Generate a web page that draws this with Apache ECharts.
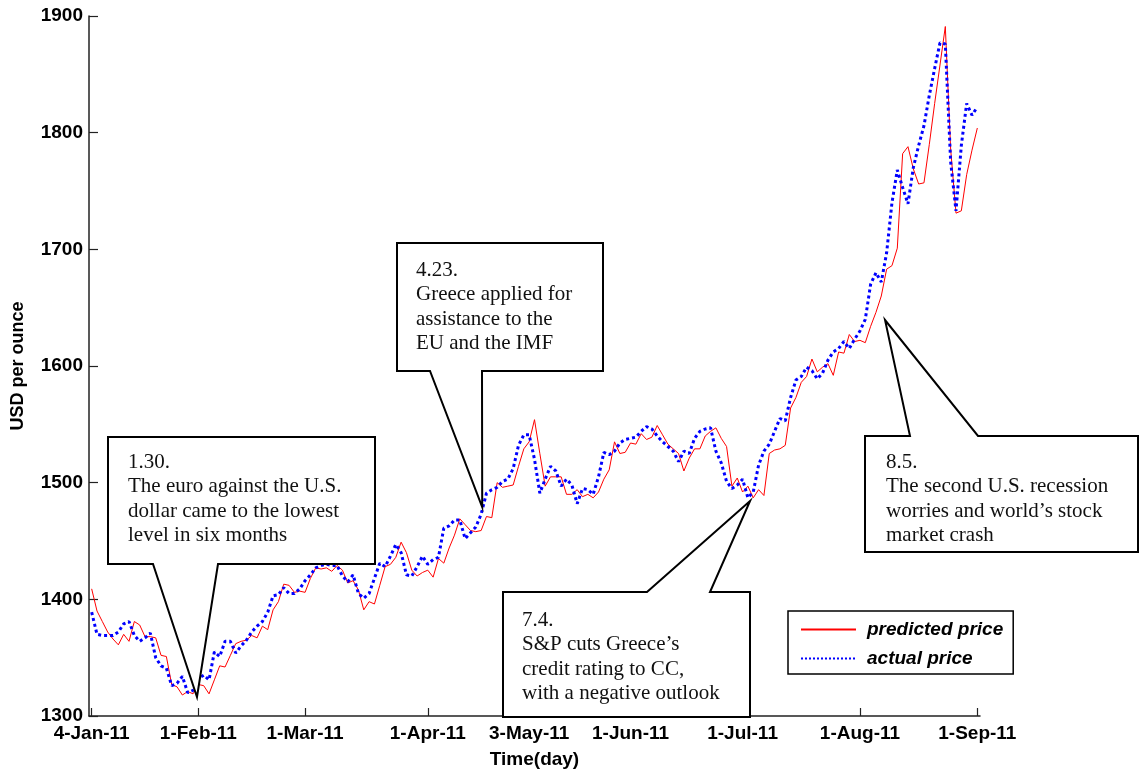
<!DOCTYPE html>
<html>
<head>
<meta charset="utf-8">
<script src="https://cdn.jsdelivr.net/npm/echarts@6/dist/echarts.min.js"></script>
<style>
  html, body { margin: 0; padding: 0; background: #fff; }
  #chart { width: 1141px; height: 774px; }
</style>
</head>
<body>
<div id="chart"></div>
<script>
// Trading-day index of each labelled date and the label shown under it
const tickDays = [1, 21, 41, 64, 83, 102, 123, 145, 167];
const tickLabels = ['4-Jan-11', '1-Feb-11', '1-Mar-11', '1-Apr-11', '3-May-11',
                    '1-Jun-11', '1-Jul-11', '1-Aug-11', '1-Sep-11'];

// Gold price, USD per ounce, one value per trading day from 4 Jan 2011
const predicted = [
  1409, 1390, 1381, 1372, 1366, 1361, 1370, 1364, 1381, 1378,
  1368, 1368, 1367, 1352, 1351, 1327, 1325, 1318, 1321, 1319,
  1327, 1326, 1319, 1331, 1343, 1342, 1352, 1362, 1364, 1365,
  1369, 1367, 1377, 1374, 1391, 1398, 1413, 1412, 1406, 1407,
  1406, 1418, 1427, 1426, 1427, 1424, 1429, 1425, 1414, 1416,
  1408, 1391, 1398, 1396, 1412, 1428, 1430, 1436, 1449, 1440,
  1425, 1420, 1423, 1425, 1419, 1435, 1431, 1444, 1455, 1469,
  1464, 1459, 1458, 1459, 1471, 1470, 1500, 1496, 1497, 1498,
  1514, 1529, 1535, 1554, 1525, 1497, 1505, 1505, 1505, 1490,
  1490, 1494, 1488, 1490, 1487, 1492, 1503, 1511, 1535, 1525,
  1526, 1534, 1533, 1542, 1537, 1539, 1549, 1541, 1533, 1529,
  1525, 1510, 1521, 1529, 1529, 1540, 1544, 1547, 1538, 1531,
  1497, 1504, 1492, 1497, 1487, 1494, 1489, 1525, 1528, 1529,
  1532, 1564, 1573, 1586, 1591, 1606, 1595, 1599, 1602, 1592,
  1612, 1611, 1627, 1621, 1622, 1620, 1634, 1646, 1660, 1683,
  1686, 1701, 1782, 1788, 1769, 1756, 1757, 1790, 1825, 1858,
  1891, 1786, 1731, 1733, 1764, 1785, 1804
];
const actual = [
  1389, 1370, 1369, 1369, 1369, 1372, 1379, 1381, 1369, 1364,
  1367, 1371, 1350, 1343, 1341, 1326, 1328, 1334, 1320, 1322,
  1332, 1335, 1331, 1355, 1351, 1364, 1364, 1354, 1360, 1365,
  1372, 1377, 1381, 1389, 1403, 1404, 1410, 1405, 1405, 1409,
  1416, 1421, 1427, 1429, 1430, 1429, 1429, 1420, 1415, 1421,
  1405, 1401, 1405, 1418, 1431, 1428, 1437, 1447, 1440, 1421,
  1420, 1428, 1437, 1430, 1434, 1436, 1461, 1463, 1468, 1468,
  1452, 1457, 1462, 1473, 1491, 1494, 1496, 1501, 1503, 1512,
  1532, 1541, 1541, 1520, 1491, 1503, 1514, 1510, 1497, 1503,
  1498, 1482, 1495, 1494, 1490, 1505, 1526, 1524, 1527, 1534,
  1537, 1538, 1539, 1544, 1548, 1546, 1540, 1535, 1531, 1527,
  1518, 1527, 1525, 1538, 1544, 1546, 1547, 1527, 1517, 1501,
  1495, 1498, 1503, 1487, 1492, 1515, 1527, 1533, 1544, 1555,
  1553, 1573, 1588, 1591, 1599, 1596, 1589, 1594, 1605, 1612,
  1615, 1621, 1615, 1623, 1630, 1640, 1670, 1680, 1672, 1697,
  1740, 1768, 1753, 1739, 1770, 1789, 1806, 1832, 1855, 1877,
  1876, 1775, 1733, 1789, 1825, 1815, 1822
];

// Event notes: the point each one refers to (day, price) and its text
const noteTips = [[20.74, 1316.3], [74.2, 1479.1], [124.4, 1484.3], [149.7, 1639.4]];
const noteTexts = [
  ['1.30.', 'The euro against the U.S.', 'dollar came to the lowest', 'level in six months'],
  ['4.23.', 'Greece applied for', 'assistance to the', 'EU and the IMF'],
  ['7.4.', 'S&P cuts Greece\u2019s', 'credit rating to CC,', 'with a negative outlook'],
  ['8.5.', 'The second U.S. recession', 'worries and world\u2019s stock', 'market crash']
];

// Callout boxes in screen pixels: [left, top, right, bottom], pointer side,
// the two x positions where the pointer leaves the box, and text origin
const noteLayout = [
  { box: [108, 437, 375, 564], side: 'bottom', base: [153, 218], text: [128, 450] },
  { box: [397, 243, 603, 371], side: 'bottom', base: [430, 482], text: [416, 258] },
  { box: [503, 592, 750, 717], side: 'top',    base: [647, 710], text: [522, 608] },
  { box: [865, 436, 1138, 552], side: 'top',   base: [910, 978], text: [886, 450] }
];

const sans = '"Liberation Sans", Arial, sans-serif';
const serif = '"Liberation Serif", "Times New Roman", serif';

const chart = echarts.init(document.getElementById('chart'), null, { renderer: 'canvas' });

const dayIndex = predicted.map((_, i) => i + 1);

chart.setOption({
  animation: false,
  backgroundColor: '#fff',
  grid: { left: 89, right: 161, top: 16, bottom: 58, containLabel: false, outerBoundsMode: 'none' },
  legend: {
    left: 788, top: 611,
    orient: 'vertical',
    backgroundColor: '#fff',
    borderColor: '#000', borderWidth: 1.5,
    padding: [9, 10, 6, 12],
    itemWidth: 55, itemHeight: 14, itemGap: 10,
    itemStyle: { opacity: 0 },
    textStyle: { fontFamily: sans, fontSize: 19, fontWeight: 'bold', fontStyle: 'italic',
                 color: '#000', padding: [0, 0, 0, 6] },
    data: ['predicted price', 'actual price']
  },
  xAxis: {
    type: 'value', min: 0.5, max: 167.5,
    axisLine: { onZero: false, lineStyle: { color: '#222', width: 1.5 } },
    axisTick: { inside: true, length: 8, customValues: tickDays, lineStyle: { color: '#222', width: 1.2 } },
    axisLabel: {
      customValues: tickDays,
      formatter: v => tickLabels[tickDays.indexOf(v)] || '',
      margin: 8, color: '#000', fontFamily: sans, fontSize: 19, fontWeight: 'bold'
    },
    splitLine: { show: false },
    name: 'Time(day)', nameLocation: 'middle', nameGap: 34,
    nameTextStyle: { color: '#000', fontFamily: sans, fontSize: 19, fontWeight: 'bold' }
  },
  yAxis: {
    type: 'value', min: 1300, max: 1900, interval: 100,
    axisLine: { show: true, lineStyle: { color: '#222', width: 1.5 } },
    axisTick: { show: true, inside: true, length: 9, lineStyle: { color: '#222', width: 1.2 } },
    axisLabel: { margin: 6, color: '#000', fontFamily: sans, fontSize: 19, fontWeight: 'bold',
                 formatter: v => String(v) },
    splitLine: { show: false },
    name: 'USD per ounce', nameLocation: 'middle', nameRotate: 90, nameGap: 62,
    nameTextStyle: { color: '#000', fontFamily: sans, fontSize: 18, fontWeight: 'bold' }
  },
  series: [
    {
      name: 'predicted price', type: 'line', symbol: 'none',
      data: dayIndex.map((d, i) => [d, predicted[i]]),
      lineStyle: { color: '#ff0000', width: 1 },
      itemStyle: { color: '#ff0000' },
      z: 2
    },
    {
      name: 'actual price', type: 'line', symbol: 'none',
      data: dayIndex.map((d, i) => [d, actual[i]]),
      lineStyle: { color: '#0000ff', width: 3, type: 'dotted', cap: 'butt' },
      itemStyle: { color: '#0000ff' },
      z: 3
    }
  ]
});

// Callouts: a white box with a wedge pointing at the referenced price
const graphics = [];
noteLayout.forEach((n, k) => {
  const tip = chart.convertToPixel({ xAxisIndex: 0, yAxisIndex: 0 }, noteTips[k]);
  const [l, t, r, b] = n.box;
  let pts;
  if (n.side === 'bottom') {
    pts = [[l, t], [r, t], [r, b], [n.base[1], b], tip, [n.base[0], b], [l, b]];
  } else {
    pts = [[l, t], [n.base[0], t], tip, [n.base[1], t], [r, t], [r, b], [l, b]];
  }
  graphics.push({
    type: 'polygon', z: 100,
    shape: { points: pts },
    style: { fill: '#fff', stroke: '#000', lineWidth: 2, lineJoin: 'miter' }
  });
  graphics.push({
    type: 'text', z: 101,
    x: n.text[0], y: n.text[1],
    style: {
      text: noteTexts[k].join('\n'),
      font: '21px ' + serif,
      fill: '#111',
      lineHeight: 24.5,
      verticalAlign: 'top'
    }
  });
});
chart.setOption({ graphic: graphics });
</script>
</body>
</html>
